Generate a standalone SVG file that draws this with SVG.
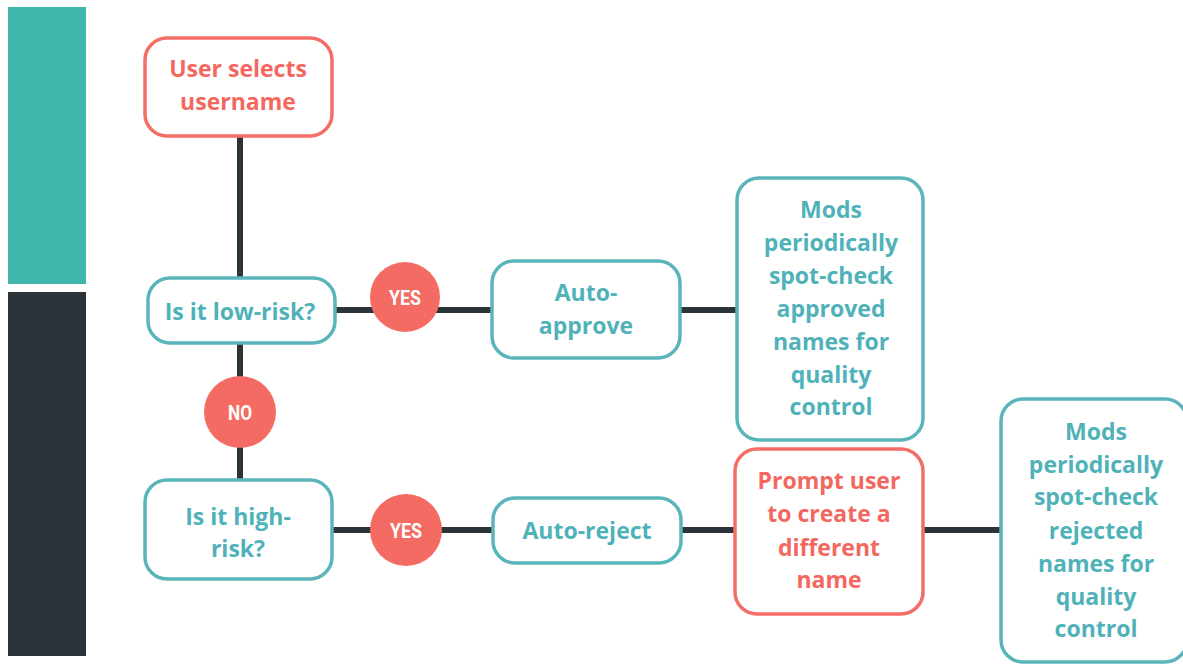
<svg xmlns="http://www.w3.org/2000/svg" width="1183" height="664" viewBox="0 0 1183 664">
<style>
.bg{fill:#ffffff}
.box{fill:#ffffff;stroke-width:3.5}
.teal{stroke:#5AB5BB}
.coral{stroke:#F46D66}
.t{font-family:"Open Sans",Lato,sans-serif;font-weight:700;font-size:23px;text-anchor:middle}
.tt{fill:#4FB2B9}
.tc{fill:#F4675F}
.lbl{fill:#F46B63}
.lt{font-family:Roboto,"Liberation Sans",sans-serif;font-weight:700;font-size:21px;fill:#ffffff;text-anchor:middle}
.ln{stroke:#2B3439;stroke-width:6;fill:none}
</style>
<rect class="bg" x="0" y="0" width="1183" height="664"/>
<rect x="8" y="7" width="78" height="277" fill="#3FB7AD"/>
<rect x="8" y="292" width="78" height="364" fill="#2A3338"/>
<g id="connectors">
<line class="ln" x1="240" y1="137" x2="240" y2="279"/>
<line class="ln" x1="240" y1="343" x2="240" y2="481"/>
<line class="ln" x1="335" y1="310" x2="492" y2="310"/>
<line class="ln" x1="680" y1="310" x2="737" y2="310"/>
<line class="ln" x1="333" y1="530" x2="493" y2="530"/>
<line class="ln" x1="681" y1="530" x2="735" y2="530"/>
<line class="ln" x1="923" y1="530" x2="1001" y2="530"/>
</g>
<g id="n-start">
<rect class="box coral" x="145" y="38" width="187" height="98" rx="22"/>
<text class="t tc" x="238" y="77">User selects</text>
<text class="t tc" x="238" y="110">username</text>
</g>
<g id="n-low">
<rect class="box teal" x="148" y="278" width="187" height="65" rx="22"/>
<text class="t tt" x="240" y="320">Is it low-risk?</text>
</g>
<g id="yes1">
<circle cx="405" cy="297" r="35" class="lbl"/>
<text class="lt" x="405" y="305" textLength="32" lengthAdjust="spacingAndGlyphs">YES</text>
</g>
<g id="n-approve">
<rect class="box teal" x="492" y="261" width="188" height="97" rx="22"/>
<text class="t tt" x="586" y="301">Auto-</text>
<text class="t tt" x="586" y="334">approve</text>
</g>
<g id="n-mods1">
<rect class="box teal" x="737" y="178" width="186" height="262" rx="22"/>
<text class="t tt" x="831" y="218">Mods</text>
<text class="t tt" x="831" y="251">periodically</text>
<text class="t tt" x="831" y="284">spot-check</text>
<text class="t tt" x="831" y="317">approved</text>
<text class="t tt" x="831" y="350">names for</text>
<text class="t tt" x="831" y="383">quality</text>
<text class="t tt" x="831" y="415">control</text>
</g>
<g id="no1">
<circle cx="240" cy="412" r="36" class="lbl"/>
<text class="lt" x="240" y="420" textLength="24" lengthAdjust="spacingAndGlyphs">NO</text>
</g>
<g id="n-high">
<rect class="box teal" x="145" y="480" width="187" height="99" rx="22"/>
<text class="t tt" x="238" y="525">Is it high-</text>
<text class="t tt" x="238" y="557">risk?</text>
</g>
<g id="yes2">
<circle cx="406" cy="530" r="36" class="lbl"/>
<text class="lt" x="406" y="538" textLength="32" lengthAdjust="spacingAndGlyphs">YES</text>
</g>
<g id="n-reject">
<rect class="box teal" x="493" y="498" width="188" height="65" rx="22"/>
<text class="t tt" x="587" y="539">Auto-reject</text>
</g>
<g id="n-prompt">
<rect class="box coral" x="735" y="449" width="188" height="165" rx="22"/>
<text class="t tc" x="829" y="489">Prompt user</text>
<text class="t tc" x="829" y="522">to create a</text>
<text class="t tc" x="829" y="556">different</text>
<text class="t tc" x="829" y="588">name</text>
</g>
<g id="n-mods2">
<rect class="box teal" x="1001" y="399" width="186" height="263" rx="22"/>
<text class="t tt" x="1096" y="440">Mods</text>
<text class="t tt" x="1096" y="473">periodically</text>
<text class="t tt" x="1096" y="505">spot-check</text>
<text class="t tt" x="1096" y="539">rejected</text>
<text class="t tt" x="1096" y="572">names for</text>
<text class="t tt" x="1096" y="605">quality</text>
<text class="t tt" x="1096" y="637">control</text>
</g>
</svg>
